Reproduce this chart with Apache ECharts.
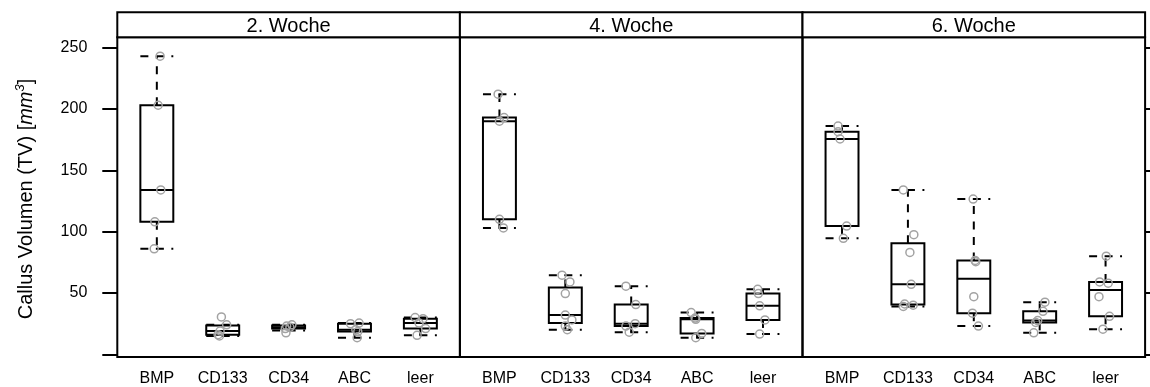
<!DOCTYPE html>
<html>
<head>
<meta charset="utf-8">
<script src="https://cdn.jsdelivr.net/npm/echarts@6/dist/echarts.min.js"></script>
<style>
html,body{margin:0;padding:0;background:#fff;}
#chart{width:1150px;height:387px;}
</style>
</head>
<body>
<div id="chart"></div>
<script>
// ---- data ----
const categories = ['BMP', 'CD133', 'CD34', 'ABC', 'leer'];
const panelTitles = ['2. Woche', '4. Woche', '6. Woche'];
const yTickValues = [0, 50, 100, 150, 200, 250];
const yLabelValues = [50, 100, 150, 200, 250];
const yTitle = 'Callus Volumen (TV) [';
const yTitleUnit = 'mm';
const yTitleSup = '3';

// box stats per category: [lower whisker, Q1, median, Q3, upper whisker]
const boxes2 = [[86, 108, 134, 203, 243], [15, 16, 19, 23.5, 24], [19.5, 21, 22, 23.5, 24], [13.5, 18.5, 20, 25, 25.5], [15.5, 21, 25.5, 29, 30]];
const boxes4 = [[103, 110, 190, 193, 212], [20, 25.5, 32, 54.5, 64.5], [18, 23, 25, 40.5, 55.5], [13.5, 17, 28.5, 29.5, 34], [16.5, 28, 39.5, 49.5, 53]];
const boxes6 = [[94.5, 104.5, 175.5, 181.5, 186], [39, 40.5, 57, 90.5, 134], [23, 33.5, 61.5, 76.5, 126.5], [17.5, 26, 27.5, 35, 42.5], [20.5, 31, 52.5, 59, 80]];

// individual observations per category
const points2 = [[243, 203, 134, 108, 86], [30.5, 24, 19, 16, 15], [24, 23, 22, 21, 17.5], [25.5, 25, 20, 18.5, 13.5], [30, 29, 25.5, 21, 15.5]];
const points4 = [[212, 193, 190, 110, 103], [64.5, 59, 49.5, 32, 28, 23, 20], [55.5, 40.5, 25, 23, 18], [34, 29.5, 28.5, 17, 13.5], [53, 49.5, 39.5, 28, 16.5]];
const points6 = [[186, 181.5, 175.5, 104.5, 94.5], [134, 97.5, 83, 57, 41, 40, 39], [126.5, 76.5, 75.5, 47, 33.5, 23], [42.5, 35, 27.5, 26, 17.5], [80, 59, 58, 47, 31, 20.5]];

// horizontal jitter of the observations (category units)
const jitter2 = [[0.05, 0.02, 0.06, -0.03, -0.04], [-0.02, 0.06, -0.04, -0.07, -0.05], [0.05, -0.03, 0.02, -0.05, -0.04], [0.07, -0.06, 0.02, 0.05, 0.04], [-0.08, 0.04, -0.02, 0.08, -0.05]];
const jitter4 = [[-0.02, 0.07, 0, 0, 0.06], [-0.05, 0.07, 0, 0, 0.1, 0, 0.03], [-0.08, 0.07, 0.06, -0.08, -0.03], [-0.09, -0.03, -0.02, 0.07, -0.02], [-0.08, -0.07, -0.05, 0.03, -0.05]];
const jitter6 = [[-0.06, -0.06, -0.03, 0.07, 0.02], [-0.07, 0.09, 0.03, 0.05, -0.05, 0.08, -0.07], [-0.01, 0.02, 0.03, 0, -0.02, 0.07], [0.08, 0.05, -0.03, -0.06, -0.09], [0.01, -0.09, 0.04, -0.1, 0.06, -0.04]];

// ---- layout ----
const FONT = '"Liberation Sans", Arial, Helvetica, sans-serif';
const PL = 117.3, PW = 342.6, PT = 37.3, PH = 319.7, STRIP_TOP = 12.3;
const boxesAll = [boxes2, boxes4, boxes6];
const pointsAll = [points2, points4, points6];
const jitterAll = [jitter2, jitter4, jitter6];
const DASH = [8, 7.5];

const chart = echarts.init(document.getElementById('chart'), null, {renderer: 'canvas'});

function renderBox(params, api) {
  const x = api.value(0);
  const lo = api.value(1), q1 = api.value(2), md = api.value(3), q3 = api.value(4), hi = api.value(5);
  const cx = api.coord([x, md])[0];
  const bw = api.size([0.5, 0])[0];
  const xl = cx - bw / 2, xr = cx + bw / 2;
  const yLo = api.coord([x, lo])[1], yQ1 = api.coord([x, q1])[1], yMd = api.coord([x, md])[1];
  const yQ3 = api.coord([x, q3])[1], yHi = api.coord([x, hi])[1];
  const solid = {stroke: '#000', lineWidth: 2, fill: null};
  const dashed = {stroke: '#000', lineWidth: 2, lineDash: DASH, fill: null};
  return {
    type: 'group',
    children: [
      {type: 'line', shape: {x1: cx, y1: yQ3, x2: cx, y2: yHi}, style: dashed},
      {type: 'line', shape: {x1: cx, y1: yQ1, x2: cx, y2: yLo}, style: dashed},
      {type: 'line', shape: {x1: xl, y1: yHi, x2: xr, y2: yHi}, style: dashed},
      {type: 'line', shape: {x1: xl, y1: yLo, x2: xr, y2: yLo}, style: dashed},
      {type: 'rect', shape: {x: xl, y: yQ3, width: bw, height: yQ1 - yQ3}, style: solid},
      {type: 'line', shape: {x1: xl, y1: yMd, x2: xr, y2: yMd}, style: solid}
    ]
  };
}

const grids = [], xAxes = [], yAxes = [], series = [], graphics = [];
panelTitles.forEach((title, i) => {
  const left = PL + i * PW;
  grids.push({left: left, top: PT, width: PW, height: PH, show: true, borderColor: '#000', borderWidth: 2, backgroundColor: 'transparent'});
  xAxes.push({
    type: 'value', gridIndex: i, min: 0.4, max: 5.6,
    axisLine: {show: false}, splitLine: {show: false}, axisTick: {show: false},
    axisLabel: {customValues: [1, 2, 3, 4, 5], formatter: v => categories[Math.round(v) - 1],
      fontSize: 16, color: '#000', fontFamily: FONT, margin: 14}
  });
  yAxes.push({
    type: 'value', gridIndex: i, min: -2.2, max: 258.4,
    position: i === 2 ? 'right' : 'left',
    axisLine: {show: false}, splitLine: {show: false},
    axisTick: {show: i !== 1, length: 15, inside: false, customValues: yTickValues, lineStyle: {color: '#000', width: 2}},
    axisLabel: {show: i === 0, customValues: yLabelValues, fontSize: 16, color: '#000', fontFamily: FONT, margin: 30}
  });
  series.push({
    type: 'custom', xAxisIndex: i, yAxisIndex: i, silent: true,
    renderItem: renderBox,
    encode: {x: 0, y: [1, 2, 3, 4, 5]},
    data: boxesAll[i].map((b, k) => [k + 1].concat(b))
  });
  const pts = [];
  pointsAll[i].forEach((arr, k) => arr.forEach((v, j) => pts.push([k + 1 + jitterAll[i][k][j], v])));
  series.push({
    type: 'scatter', xAxisIndex: i, yAxisIndex: i, silent: true, z: 3,
    symbol: 'circle', symbolSize: 8,
    itemStyle: {color: 'rgba(0,0,0,0)', borderColor: '#a3a3a3', borderWidth: 1.5, opacity: 1},
    data: pts
  });
  graphics.push({
    type: 'rect', shape: {x: left, y: STRIP_TOP, width: PW, height: PT - STRIP_TOP},
    style: {fill: '#fff', stroke: '#000', lineWidth: 2}, z: 10
  });
  graphics.push({
    type: 'text', x: left + PW / 2, y: 26, z: 11,
    style: {text: title, fontSize: 20, fontFamily: FONT, fill: '#000', textAlign: 'center', textVerticalAlign: 'middle'}
  });
});

graphics.push({
  type: 'text', x: 26, y: 199, rotation: Math.PI / 2, z: 11,
  style: {
    text: '{a|' + yTitle + '}{i|' + yTitleUnit + '}{s|' + yTitleSup + '}{a|]}',
    textAlign: 'center', textVerticalAlign: 'middle',
    rich: {
      a: {fontSize: 20, fontFamily: FONT, fill: '#000', lineHeight: 24},
      i: {fontSize: 20, fontFamily: FONT, fill: '#000', fontStyle: 'italic', lineHeight: 24},
      s: {fontSize: 13, fontFamily: FONT, fill: '#000', fontStyle: 'italic', lineHeight: 14, verticalAlign: 'top'}
    }
  }
});

chart.setOption({
  animation: false,
  backgroundColor: '#fff',
  grid: grids,
  xAxis: xAxes,
  yAxis: yAxes,
  series: series,
  graphic: graphics
});
</script>
</body>
</html>
